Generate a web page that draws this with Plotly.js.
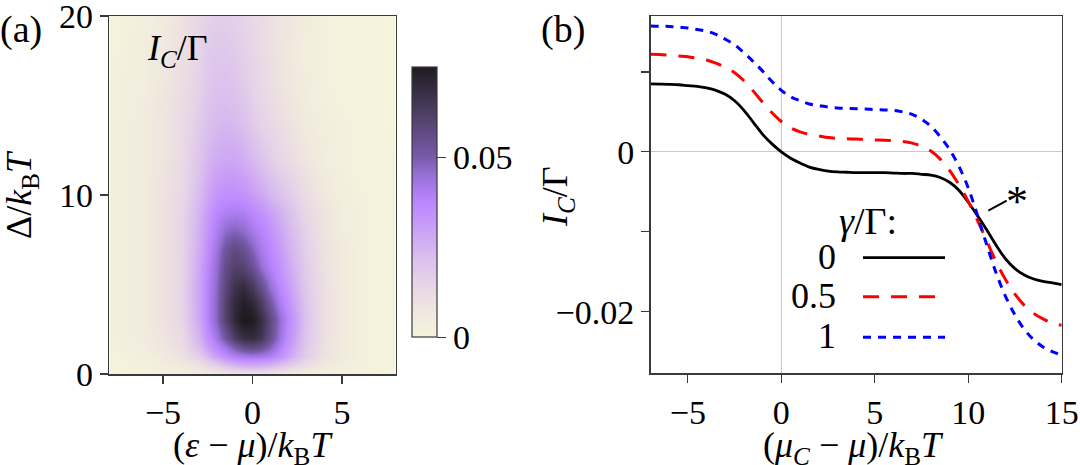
<!DOCTYPE html>
<html><head><meta charset="utf-8">
<script src="https://cdn.plot.ly/plotly-3.0.1.min.js"></script>
<style>html,body{margin:0;padding:0;background:#fff}#plot{width:1080px;height:465px}</style>
</head><body><div id="plot"></div><script>
// ---------- panel (a): heat map I_C/Gamma ----------
const heatX = [-8, -6, -5, -4, -3, -2.5, -2, -1.5, -1, -0.5, 0, 0.5, 1, 1.5, 2, 3, 4, 5, 6, 8];
const heatY = [0, 0.4, 1, 1.5, 2, 3, 4, 5, 6, 7, 8, 9, 10, 12, 14, 16, 18, 20];
const heatZ = [
  [0.000,0.001,0.002,0.003,0.004,0.005,0.006,0.007,0.008,0.008,0.008,0.008,0.007,0.006,0.005,0.003,0.002,0.001,0.001,0.000],
  [0.001,0.002,0.003,0.005,0.008,0.011,0.014,0.018,0.021,0.023,0.024,0.023,0.021,0.018,0.015,0.009,0.005,0.003,0.002,0.001],
  [0.001,0.003,0.005,0.009,0.017,0.023,0.030,0.036,0.040,0.042,0.043,0.042,0.040,0.035,0.029,0.017,0.009,0.005,0.002,0.001],
  [0.002,0.004,0.007,0.011,0.022,0.030,0.037,0.043,0.050,0.056,0.058,0.055,0.048,0.040,0.032,0.018,0.009,0.005,0.002,0.001],
  [0.002,0.005,0.008,0.012,0.025,0.034,0.042,0.052,0.062,0.068,0.069,0.065,0.055,0.044,0.035,0.019,0.010,0.005,0.002,0.001],
  [0.002,0.005,0.009,0.014,0.028,0.038,0.047,0.060,0.070,0.076,0.075,0.068,0.057,0.046,0.037,0.020,0.010,0.005,0.002,0.001],
  [0.002,0.005,0.009,0.014,0.029,0.038,0.047,0.060,0.069,0.073,0.070,0.062,0.051,0.041,0.034,0.019,0.010,0.005,0.002,0.001],
  [0.002,0.005,0.009,0.014,0.029,0.038,0.046,0.058,0.066,0.068,0.063,0.054,0.044,0.037,0.031,0.018,0.010,0.005,0.002,0.001],
  [0.002,0.005,0.009,0.014,0.028,0.037,0.045,0.056,0.061,0.060,0.054,0.045,0.039,0.034,0.028,0.017,0.009,0.005,0.002,0.001],
  [0.002,0.005,0.009,0.014,0.027,0.035,0.043,0.052,0.057,0.054,0.048,0.041,0.037,0.032,0.026,0.016,0.009,0.005,0.002,0.001],
  [0.002,0.005,0.009,0.014,0.026,0.033,0.040,0.046,0.048,0.046,0.042,0.038,0.034,0.029,0.024,0.015,0.008,0.004,0.002,0.001],
  [0.002,0.005,0.009,0.014,0.025,0.031,0.037,0.040,0.041,0.040,0.037,0.034,0.030,0.026,0.022,0.013,0.008,0.004,0.002,0.001],
  [0.002,0.005,0.009,0.013,0.023,0.028,0.033,0.035,0.035,0.034,0.031,0.028,0.024,0.021,0.018,0.011,0.006,0.003,0.002,0.001],
  [0.002,0.005,0.008,0.012,0.020,0.024,0.027,0.028,0.028,0.026,0.023,0.020,0.017,0.014,0.012,0.007,0.004,0.002,0.001,0.001],
  [0.002,0.005,0.008,0.012,0.018,0.021,0.023,0.024,0.023,0.021,0.018,0.015,0.013,0.011,0.009,0.005,0.003,0.002,0.001,0.000],
  [0.002,0.004,0.007,0.011,0.016,0.019,0.021,0.021,0.020,0.018,0.015,0.013,0.011,0.009,0.007,0.004,0.002,0.001,0.001,0.000],
  [0.001,0.004,0.006,0.010,0.015,0.018,0.019,0.019,0.018,0.016,0.014,0.012,0.010,0.008,0.006,0.003,0.002,0.001,0.001,0.000],
  [0.001,0.003,0.005,0.009,0.014,0.016,0.017,0.017,0.016,0.015,0.013,0.012,0.010,0.008,0.007,0.004,0.002,0.001,0.001,0.000]
];
const heatTicksX = [-5, 0, 5];
const heatTicksXText = ['\u22125', '0', '5'];
const heatTicksY = [0, 10, 20];
const cbTicks = [0, 0.05];
const cbTicksText = ['0', '0.05'];

// ---------- panel (b): I_C/Gamma vs (mu_C - mu)/kT ----------
const muX = [-7,-6.5,-6,-5.5,-5,-4.5,-4,-3.5,-3,-2.5,-2,-1.5,-1,-0.5,0,0.5,1,1.5,2,2.5,3,3.5,4,4.5,5,5.5,6,6.5,7,7.5,8,8.5,9,9.5,10,10.5,11,11.5,12,12.5,13,13.5,14,14.5,15];
const gamma0 = [0.0085,0.00848,0.00845,0.0084,0.0083,0.0082,0.0080,0.0077,0.0072,0.0064,0.0052,0.0037,0.0022,0.0010,0.0000,-0.0008,-0.0014,-0.0019,-0.0022,-0.0024,-0.0025,-0.00255,-0.0026,-0.0026,-0.0026,-0.0026,-0.00265,-0.0027,-0.0027,-0.0028,-0.0029,-0.0032,-0.0038,-0.0048,-0.0063,-0.0080,-0.0098,-0.0117,-0.0134,-0.0146,-0.0154,-0.0159,-0.0162,-0.0164,-0.0166];
const gamma05 = [0.0122,0.01218,0.0121,0.0120,0.0119,0.0117,0.0115,0.0111,0.0106,0.0099,0.0089,0.0076,0.0062,0.0049,0.0038,0.0030,0.0025,0.0022,0.0020,0.0018,0.0017,0.00165,0.0016,0.00155,0.0015,0.00145,0.0014,0.0013,0.0011,0.0007,0.0001,-0.0009,-0.0023,-0.0041,-0.0062,-0.0086,-0.0112,-0.0138,-0.0160,-0.0178,-0.0192,-0.0202,-0.0209,-0.0214,-0.0217];
const gamma1 = [0.01575,0.0157,0.0157,0.0156,0.0155,0.0153,0.0151,0.0147,0.0141,0.0134,0.0124,0.0113,0.0101,0.0088,0.0077,0.0069,0.0064,0.0060,0.0058,0.0056,0.0055,0.00545,0.0054,0.00535,0.0053,0.00525,0.0052,0.0050,0.0047,0.0041,0.0032,0.0019,0.0003,-0.0018,-0.0045,-0.0080,-0.0117,-0.0152,-0.0181,-0.0204,-0.0222,-0.0235,-0.0244,-0.0250,-0.0254];
const seriesLabels = ['0', '0.5', '1'];
const muTicksX = [-5, 0, 5, 10, 15];
const muTicksXText = ['\u22125', '0', '5', '10', '15'];
const muTicksY = [-0.02, 0];
const muTicksYText = ['\u22120.02', '0'];
const muMinorTicksY = [-0.01, 0.01];

// ---------- styling ----------
const FONT = 'Liberation Serif, Times New Roman, serif';
const FS = 34;
const FT = 36;
const W = 1080, H = 465;
const px = v => v / W;
const py = v => 1 - v / H;
const AX = '#3a3a3a';

const colorscale = [
  [0.00, '#f5f4dc'],
  [0.10, '#efe6df'],
  [0.20, '#e6d4e8'],
  [0.30, '#d9bdee'],
  [0.40, '#caa0f6'],
  [0.50, '#bb86ff'],
  [0.60, '#9670d6'],
  [0.667, '#785aaa'],
  [0.80, '#554470'],
  [0.90, '#3a3046'],
  [1.00, '#1e1b20']
];

const lineStyles = [
  {color: '#000000', width: 2.8, dash: 'solid'},
  {color: '#ff0000', width: 3, dash: '16px,12px'},
  {color: '#0000ff', width: 3, dash: '8px,7px'}
];

const traces = [
  {
    type: 'heatmap', x: heatX, y: heatY, z: heatZ,
    xaxis: 'x', yaxis: 'y',
    zmin: 0, zmax: 0.075, zsmooth: 'best',
    colorscale: colorscale, hoverinfo: 'skip',
    colorbar: {
      x: px(412.3), xanchor: 'left', xref: 'paper',
      y: 1 - 337.3 / H, yanchor: 'bottom', yref: 'paper',
      len: 270 / H, lenmode: 'fraction',
      thickness: 25, thicknessmode: 'pixels',
      xpad: 0, ypad: 0,
      outlinewidth: 1.2, outlinecolor: AX,
      tickvals: cbTicks, ticktext: cbTicksText,
      ticks: 'outside', ticklen: 9, tickwidth: 1.2, tickcolor: AX,
      tickfont: {family: FONT, size: FS, color: '#000'}
    }
  }
];
[gamma0, gamma05, gamma1].forEach((ys, i) => {
  traces.push({
    type: 'scatter', mode: 'lines', x: muX, y: ys,
    xaxis: 'x2', yaxis: 'y2', name: seriesLabels[i],
    line: Object.assign({shape: 'spline', smoothing: 1}, lineStyles[i]),
    hoverinfo: 'skip', showlegend: false
  });
});

const axBase = {
  showgrid: false, showline: true, mirror: true, linecolor: AX, linewidth: 1.5,
  ticks: 'outside', ticklen: 8, tickwidth: 1.2, tickcolor: AX,
  ticklabeloverflow: 'allow',
  tickfont: {family: FONT, size: FS, color: '#000'}, fixedrange: true
};

const annotations = [];
const ann = (text, x, y, opts) => annotations.push(Object.assign({
  text: text, x: px(x), y: py(y), xref: 'paper', yref: 'paper',
  showarrow: false, xanchor: 'center', yanchor: 'middle',
  font: {family: FONT, size: FS, color: '#000'}
}, opts || {}));

ann('(a)', 21, 30, {font: {family: FONT, size: 38, color: '#000'}});
ann('(b)', 563, 30, {font: {family: FONT, size: 38, color: '#000'}});
ann('<i>I</i><sub><i>C</i></sub>/Γ', 177, 50, {font: {family: FONT, size: FT, color: '#000'}});
ann('(<i>ε</i> − <i>μ</i>)/<i>k</i><sub>B</sub><i>T</i>', 252.5, 447, {font: {family: FONT, size: FT, color: '#000'}});
ann('(<i>μ</i><sub><i>C</i></sub> − <i>μ</i>)/<i>k</i><sub>B</sub><i>T</i>', 853, 447, {font: {family: FONT, size: FT, color: '#000'}});
ann('Δ/<i>k</i><sub>B</sub><i>T</i>', 21, 195, {textangle: -90, font: {family: FONT, size: FT, color: '#000'}});
ann('<i>I</i><sub><i>C</i></sub>/Γ', 558, 197, {textangle: -90, font: {family: FONT, size: FT, color: '#000'}});
ann('<i>γ</i>/Γ:', 868, 221, {font: {family: FONT, size: 38, color: '#000'}});
const legY = [257.7, 296.7, 337.3];
seriesLabels.forEach((s, i) => ann(s, 838, legY[i] - 1, {xanchor: 'right', font: {family: FONT, size: FT, color: '#000'}}));
ann('*', 1017, 202, {font: {family: FONT, size: 44, color: '#000'}});

const shapes = [];
legY.forEach((yy, i) => shapes.push({
  type: 'line', xref: 'paper', yref: 'paper',
  x0: px(863), x1: px(945), y0: py(yy), y1: py(yy),
  line: {color: lineStyles[i].color, width: lineStyles[i].width, dash: lineStyles[i].dash}
}));
shapes.push({type: 'line', xref: 'paper', yref: 'paper',
  x0: px(988.3), y0: py(210.7), x1: px(1006.7), y1: py(200.7),
  line: {color: '#000', width: 2}});

const layout = {
  width: W, height: H,
  margin: {l: 0, r: 0, t: 0, b: 0},
  paper_bgcolor: '#fff', plot_bgcolor: '#fff',
  showlegend: false,
  font: {family: FONT, size: FS, color: '#000'},
  xaxis: Object.assign({}, axBase, {
    domain: [px(109.3), px(395.7)], range: [-8, 8], anchor: 'y',
    tickvals: heatTicksX, ticktext: heatTicksXText, zeroline: false
  }),
  yaxis: Object.assign({}, axBase, {
    domain: [1 - 374 / H, 1 - 16 / H], range: [0, 20], anchor: 'x',
    tickvals: heatTicksY, zeroline: false
  }),
  xaxis2: Object.assign({}, axBase, {
    domain: [px(650.5), px(1061.7)], range: [-7, 15], anchor: 'y2',
    tickvals: muTicksX, ticktext: muTicksXText,
    zeroline: true, zerolinecolor: '#c8c8c8', zerolinewidth: 1
  }),
  yaxis2: Object.assign({}, axBase, {
    domain: [1 - 373.3 / H, 1 - 16 / H], range: [-0.0277, 0.017], anchor: 'x2',
    tickvals: muTicksY, ticktext: muTicksYText,
    minor: {tickvals: muMinorTicksY, ticks: 'outside', ticklen: 8, tickwidth: 1.2, tickcolor: AX},
    zeroline: true, zerolinecolor: '#c8c8c8', zerolinewidth: 1
  }),
  annotations: annotations,
  shapes: shapes
};

Plotly.newPlot('plot', traces, layout, {displayModeBar: false, staticPlot: true});
</script></body></html>
